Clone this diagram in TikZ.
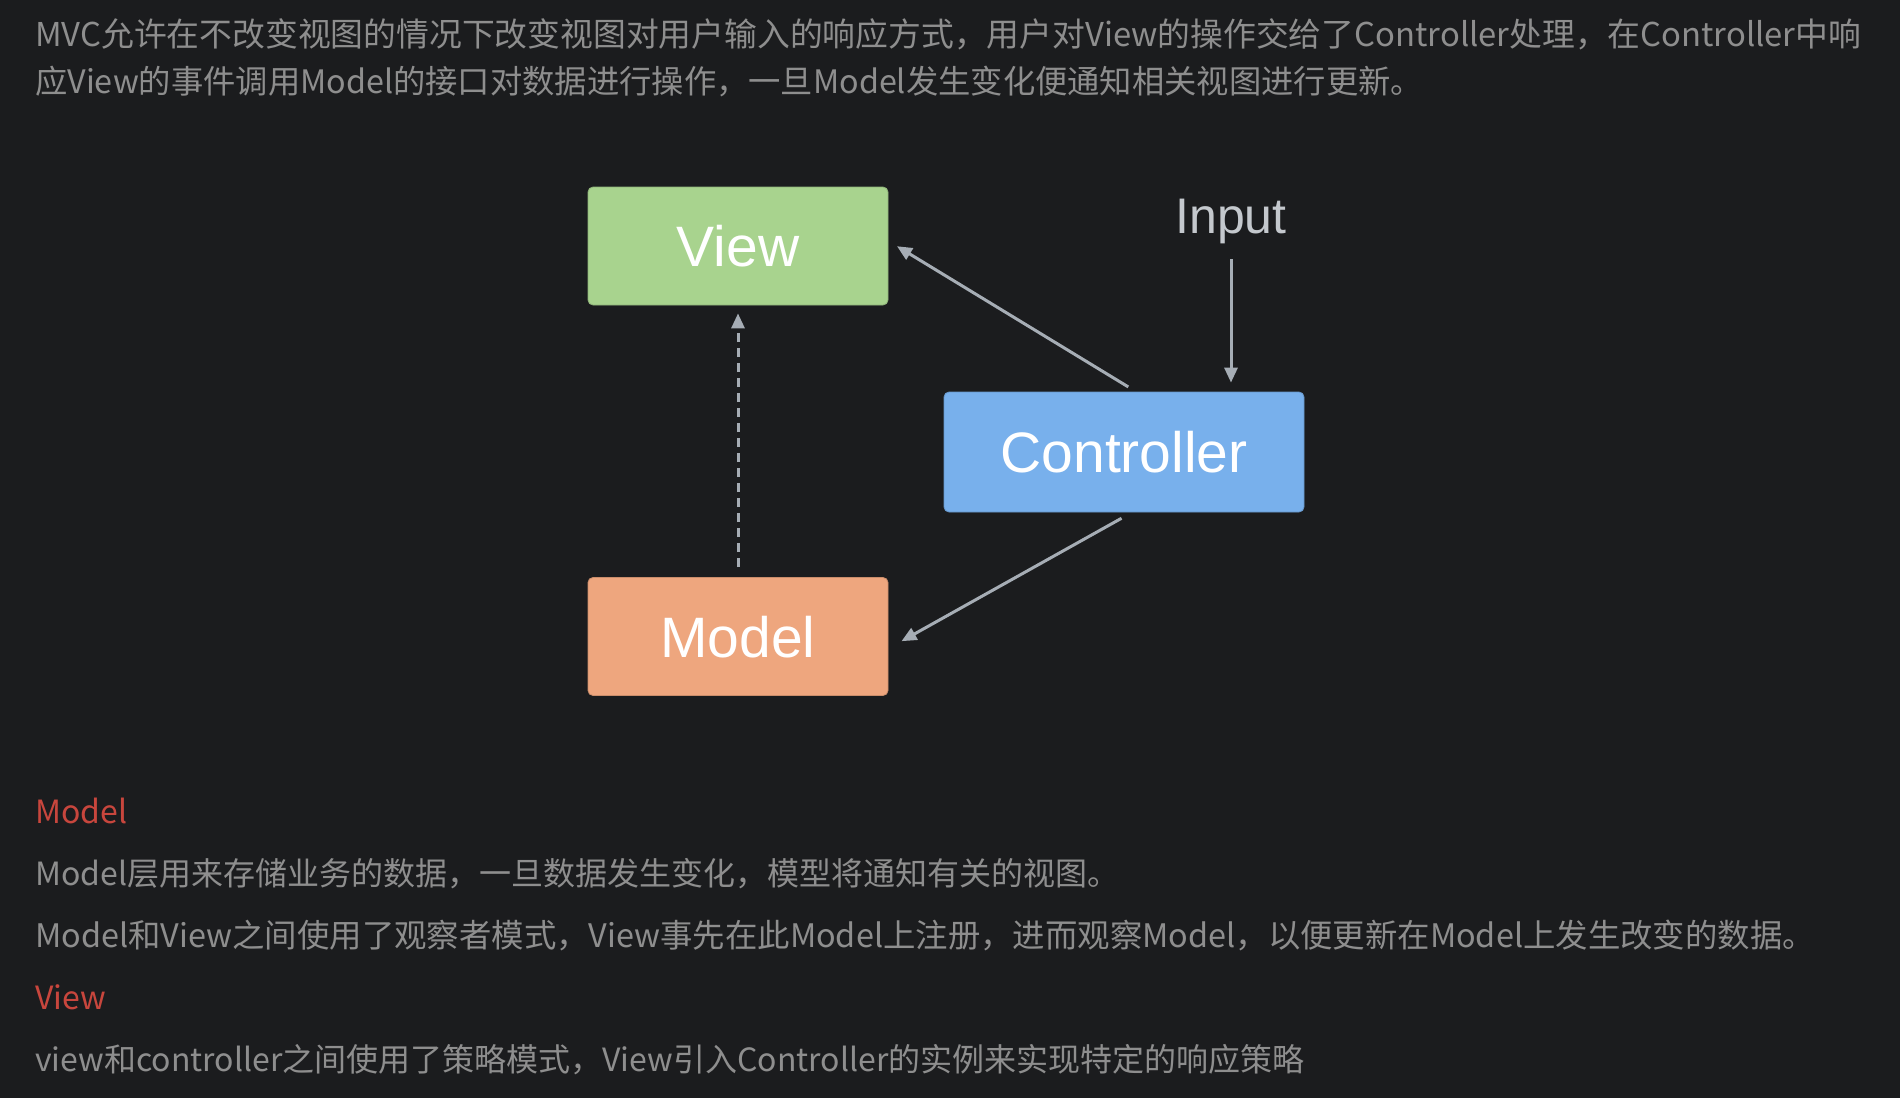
\documentclass[tikz,border=0pt]{standalone}
\usepackage{fontspec}
\setmainfont{Liberation Sans}
\newfontfamily\cjk{Noto Sans CJK SC}
\usetikzlibrary{arrows.meta}
\definecolor{bg}{HTML}{1B1C1E}
\definecolor{txt}{HTML}{8E8E8E}
\definecolor{hd}{HTML}{C8463D}
\definecolor{vgreen}{HTML}{A8D38E}
\definecolor{cblue}{HTML}{78B0EC}
\definecolor{morange}{HTML}{EEA67E}
\definecolor{arrowc}{HTML}{A6ADB5}
\definecolor{inputc}{HTML}{C4C8CD}
\tikzset{
  para/.style={anchor=base west, inner sep=0pt, text=txt, font=\cjk\fontsize{32}{32}\selectfont},
  head/.style={anchor=base west, inner sep=0pt, text=hd, font=\cjk\fontsize{32}{32}\selectfont},
  mvcbox/.style={rounded corners=5pt, minimum width=300pt, minimum height=118pt, inner sep=0pt,
    text=white, font=\fontsize{57}{57}\selectfont, text height=41pt, text depth=0pt, line width=0.8pt},
  arr/.style={draw=arrowc, line width=3pt, -{Triangle[length=15pt,width=13pt]}},
}
\begin{document}
\begin{tikzpicture}[x=1pt,y=-1pt]
\fill[bg] (0,0) rectangle (1900,1098);
\useasboundingbox (0,0) rectangle (1900,1098);

\node[para, font=\cjk\fontsize{32.8}{32.8}\selectfont] (t1) at (35,46) {MVC允许在不改变视图的情况下改变视图对用户输入的响应方式，用户对View的操作交给了Controller处理，在Controller中响};
\node[para, font=\cjk\fontsize{32.3}{32.3}\selectfont] (t2) at (35,93) {应View的事件调用Model的接口对数据进行操作，一旦Model发生变化便通知相关视图进行更新。};

\node[mvcbox, fill=vgreen, draw=vgreen!85!black] (view) at (738,246) {View};
\node[mvcbox, fill=cblue, draw=cblue!85!black, minimum width=360pt, minimum height=120pt] (ctrl) at (1124,452) {Controller};
\node[mvcbox, fill=morange, draw=morange!85!black] (model) at (738,636.5) {Model};
\node[inner sep=0pt, text=inputc, font=\fontsize{50}{50}\selectfont, text height=36pt, text depth=0pt] (input) at (1231,215) {Input};

\draw[arr, shorten <=26pt, shorten >=9pt] (input.south) -- (input.south |- ctrl.north);
\draw[arr, shorten <=9pt, shorten >=10pt] ([xshift=12pt]ctrl.north) -- ([yshift=5pt]view.east);
\draw[arr, shorten <=12pt, shorten >=15pt] ([xshift=8pt]ctrl.south) -- ([yshift=-12pt]model.east);
\draw[arr, dash pattern=on 9pt off 6pt, shorten <=10pt, shorten >=8pt] (model.north) -- (view.south);

\node[head] (h1) at (35,823) {Model};
\node[para] (p1) at (35,885) {Model层用来存储业务的数据，一旦数据发生变化，模型将通知有关的视图。};
\node[para, font=\cjk\fontsize{32.4}{32.4}\selectfont] (p2) at (35,947) {Model和View之间使用了观察者模式，View事先在此Model上注册，进而观察Model，以便更新在Model上发生改变的数据。};
\node[head] (h2) at (35,1009) {View};
\node[para] (p3) at (35,1071) {view和controller之间使用了策略模式，View引入Controller的实例来实现特定的响应策略};
\end{tikzpicture}
\end{document}
